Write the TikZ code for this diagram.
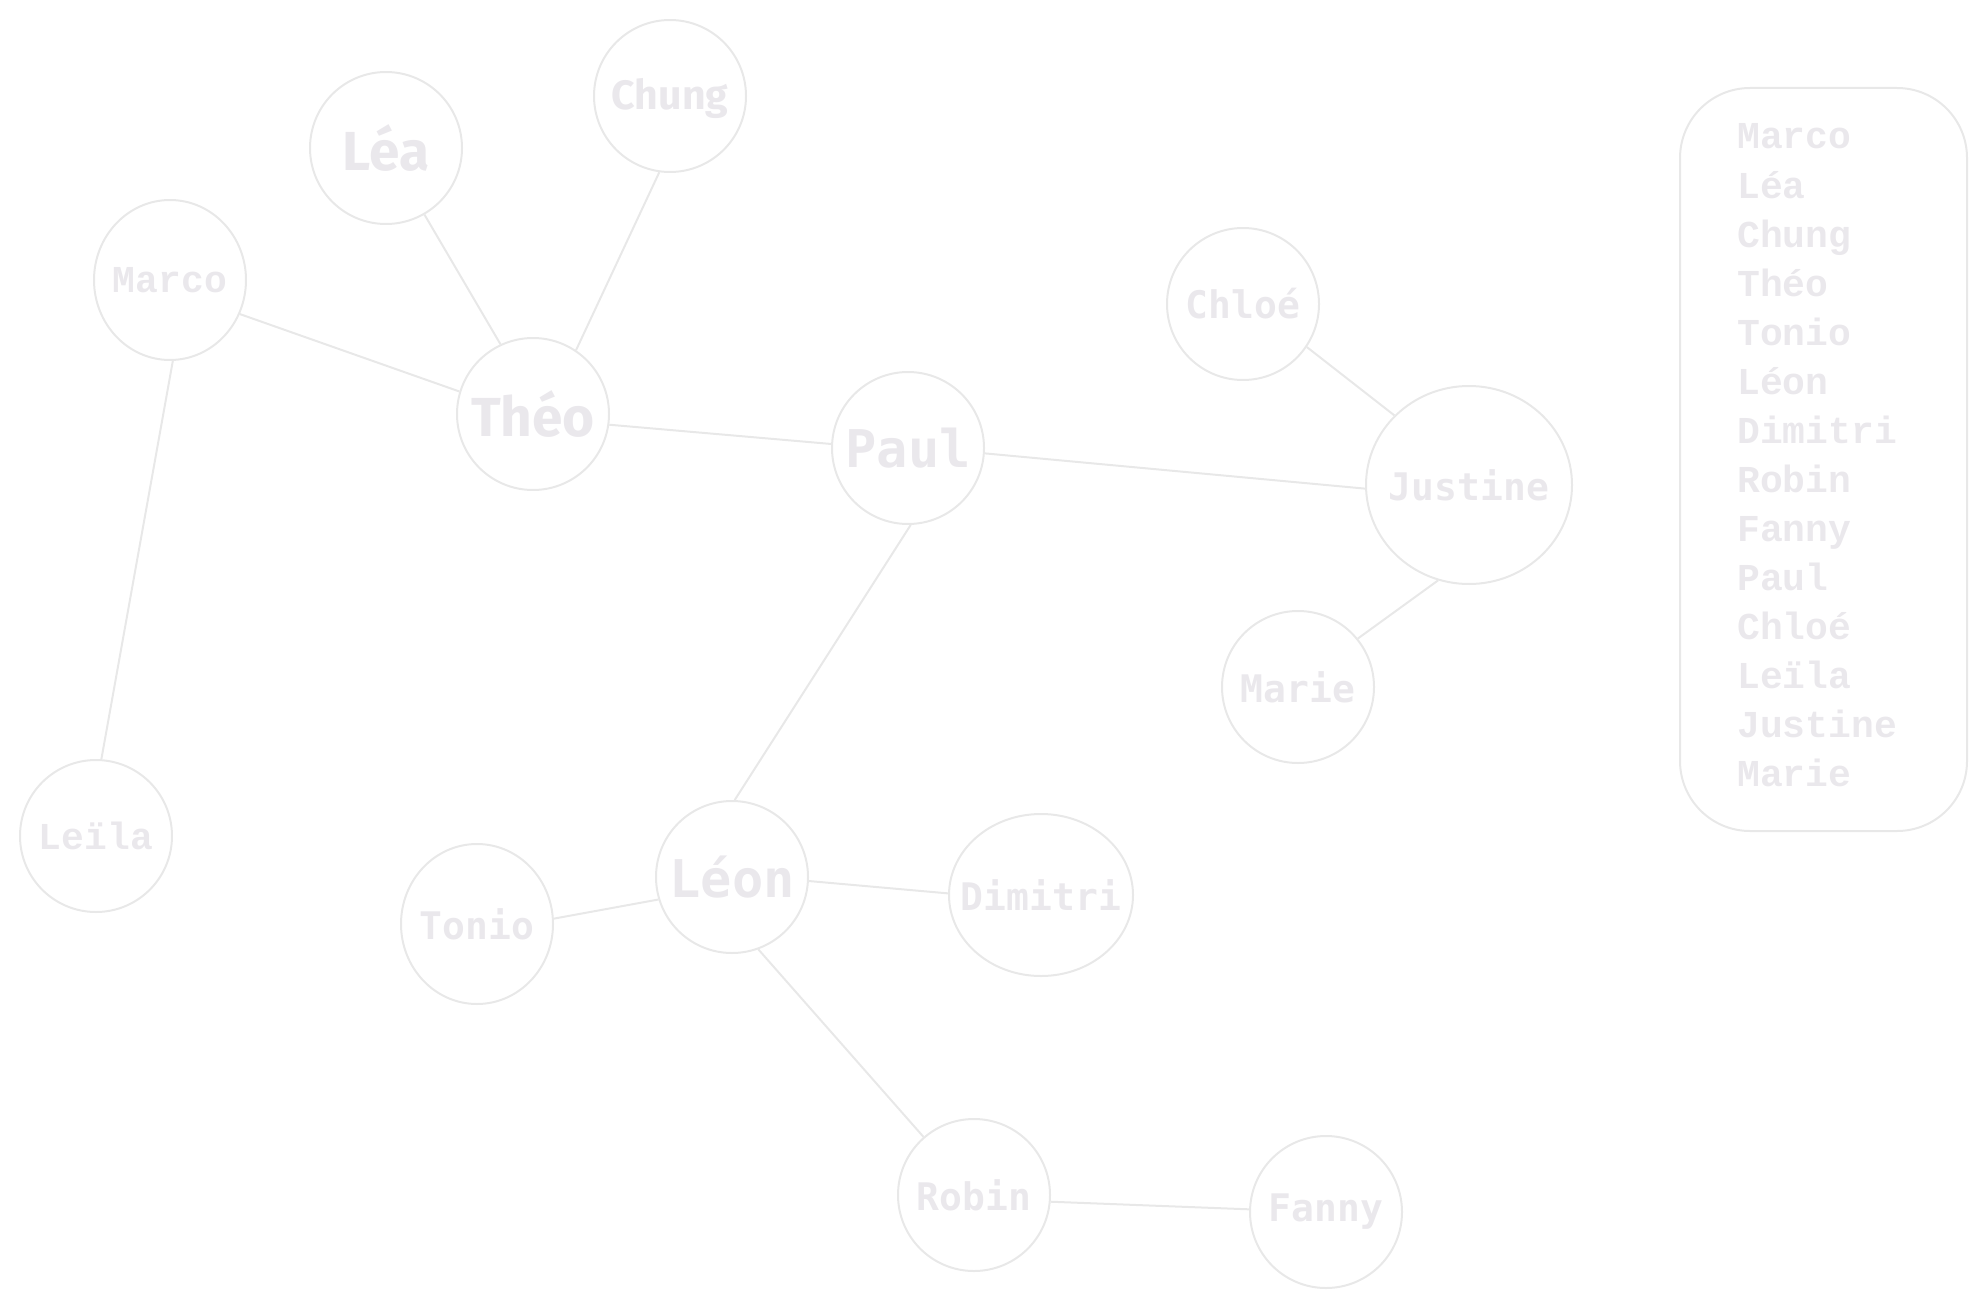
\documentclass[tikz,border=0pt]{standalone}
\usepackage{fontspec}
\usetikzlibrary{shapes.geometric}
\newfontfamily\dmono{DejaVu Sans Mono}
\newfontfamily\lmono{Liberation Mono}
\newfontfamily\fsans{Fira Sans}
\definecolor{linec}{HTML}{E8E8E8}
\definecolor{txtc}{HTML}{EAE8EC}
\newcommand{\lbl}[1]{\makebox[0pt]{#1}}
\tikzset{
  person/.style={draw=linec, line width=2pt, ellipse, inner sep=0pt, text=txtc,
    minimum width=152pt, minimum height=152pt},
  monosmall/.style={font=\dmono\bfseries\fontsize{38}{40}\selectfont},
  monobig/.style={font=\dmono\bfseries\fontsize{52}{54}\selectfont},
  courier/.style={font=\lmono\bfseries\fontsize{38}{40}\selectfont},
  sansbig/.style={font=\fsans\bfseries\fontsize{55}{58}\selectfont},
  sanssmall/.style={font=\fsans\bfseries\fontsize{41}{43}\selectfont},
  link/.style={draw=linec, line width=2pt},
  listtxt/.style={text=txtc, inner sep=0pt, font=\lmono\bfseries\fontsize{38}{40}\selectfont},
}
\begin{document}
\begin{tikzpicture}[x=1pt,y=-1pt]
\useasboundingbox (0,0) rectangle (1985,1308);
\node[person, sansbig] (lea) at (386,148) {\lbl{Léa}};
\node[person, sanssmall] (chung) at (670,96) {\lbl{\raisebox{-14pt}[0pt][0pt]{Chung}}};
\node[person, courier, minimum height=160pt] (marco) at (170,280) {\lbl{Marco}};
\node[person, sansbig] (theo) at (533,414) {\lbl{Théo}};
\node[person, monobig] (paul) at (908,448) {\lbl{Paul}};
\node[person, monosmall] (chloe) at (1243,304) {\lbl{Chloé}};
\node[person, monosmall, minimum width=206pt, minimum height=198pt] (justine) at (1469,485) {\lbl{Justine}};
\node[person, monosmall] (marie) at (1298,687) {\lbl{Marie}};
\node[person, courier] (leila) at (96,836) {\lbl{Leïla}};
\node[person, monobig] (leon) at (732,877) {\lbl{Léon}};
\node[person, monosmall, minimum height=160pt] (tonio) at (477,924) {\lbl{Tonio}};
\node[person, monosmall, minimum width=184pt, minimum height=162pt] (dimitri) at (1041,895) {\lbl{Dimitri}};
\node[person, monosmall] (robin) at (974,1195) {\lbl{Robin}};
\node[person, monosmall] (fanny) at (1326,1212) {\lbl{Fanny}};

\draw[link] (marco.-26) -- (theo.163);
\draw[link] (marco.-88) -- (leila.86);
\draw[link] (lea.-60) -- (theo.115);
\draw[link] (chung.-98) -- (theo.56);
\draw[link] (theo.-8) -- (paul.177);
\draw[link] (paul.-4) -- (justine.182);
\draw[link] (chloe.-34) -- (justine.137);
\draw[link] (justine.-108) -- (marie.39);
\draw[link] (paul.-88) -- (leon.88);
\draw[link] (leon.197) -- (tonio.4);
\draw[link] (leon.-3) -- (dimitri.179);
\draw[link] (leon.-70) -- (robin.131);
\draw[link] (robin.-5) -- (fanny.178);

\node[draw=linec, line width=2pt, rounded corners=70pt, minimum width=287pt,
  minimum height=743pt, anchor=north west, inner sep=0pt] (legend) at (1679,87) {};
\foreach \n [count=\i from 0] in {Marco,Léa,Chung,Théo,Tonio,Léon,Dimitri,Robin,Fanny,Paul,Chloé,Leïla,Justine,Marie}
  \node[listtxt, anchor=base west] (item\i) at (1737,149+49*\i) {\n};
\end{tikzpicture}
\end{document}
